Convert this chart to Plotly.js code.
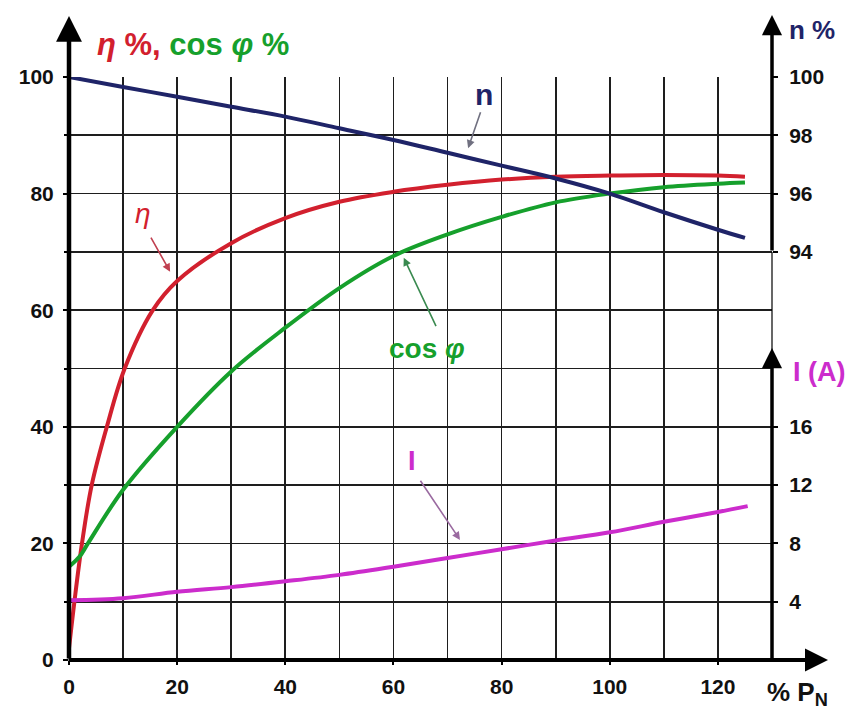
<!DOCTYPE html>
<html>
<head>
<meta charset="utf-8">
<script src="https://cdn.plot.ly/plotly-3.0.1.min.js"></script>
<style>html,body{margin:0;padding:0;background:#fff;}#chart{width:858px;height:720px;}</style>
</head>
<body>
<div id="chart"></div>
<script>
// Load (% of rated power P_N)
const etaX = [0, 1, 2.4, 4.2, 7, 10.3, 15.5, 20, 30, 40, 50, 60, 70, 80, 90, 100, 110, 120, 125];
const etaY = [2, 10, 20, 30, 40, 50, 60, 65, 71.5, 75.8, 78.6, 80.3, 81.5, 82.4, 82.9, 83.1, 83.2, 83.1, 82.9];

const cosX = [0, 2, 3.5, 10, 20, 30, 40, 50, 60, 70, 80, 90, 100, 110, 120, 125];
const cosY = [16, 17.8, 20, 29.2, 40, 49.5, 57, 63.8, 69.3, 73, 76, 78.5, 80, 81.1, 81.7, 81.9];

const nX = [0, 10, 20, 30, 40, 50, 60, 70, 80, 90, 100, 110, 120, 125];
const nY = [100.0, 99.66, 99.32, 98.98, 98.64, 98.24, 97.84, 97.40, 96.96, 96.52, 96.00, 95.36, 94.76, 94.48];

const iX = [0, 10, 20, 30, 40, 50, 60, 70, 80, 90, 100, 110, 120, 125.5];
const iY = [4.1, 4.24, 4.68, 5.0, 5.4, 5.84, 6.4, 7.0, 7.6, 8.2, 8.76, 9.48, 10.16, 10.56];

const leftTicks = [0, 20, 40, 60, 80, 100];
const xTicks = [0, 20, 40, 60, 80, 100, 120];
const nTicks = [94, 96, 98, 100];
const iTicks = [4, 8, 12, 16];

const RED = '#d2202e', GREEN = '#16a02c', NAVY = '#1f2468', MAG = '#cc2ccc';
const FONT = 'Liberation Sans, Arial, sans-serif';

const traces = [
  {x: etaX, y: etaY, mode: 'lines', line: {color: RED, width: 4, shape: 'spline', smoothing: 1}, yaxis: 'y', hoverinfo: 'skip'},
  {x: cosX, y: cosY, mode: 'lines', line: {color: GREEN, width: 4, shape: 'spline', smoothing: 1}, yaxis: 'y', hoverinfo: 'skip'},
  {x: nX, y: nY, mode: 'lines', line: {color: NAVY, width: 4, shape: 'spline', smoothing: 1}, yaxis: 'y2', hoverinfo: 'skip'},
  {x: iX, y: iY, mode: 'lines', line: {color: MAG, width: 4, shape: 'spline', smoothing: 1}, yaxis: 'y3', hoverinfo: 'skip'}
];

const gridCol = '#1e1e1e';
const tickFont = {family: FONT, size: 21, color: '#111', weight: 'bold'};

const layout = {
  width: 858, height: 720,
  margin: {l: 69, r: 86, t: 77, b: 60},
  paper_bgcolor: '#fff', plot_bgcolor: '#fff',
  showlegend: false,
  font: {family: FONT},
  xaxis: {
    range: [0, 130], tickvals: xTicks, ticktext: xTicks.map(String),
    showgrid: true, gridcolor: gridCol, gridwidth: 1.7,
    minor: {dtick: 10, tick0: 0, showgrid: true, gridcolor: gridCol, gridwidth: 1.7},
    zeroline: false, showline: false,
    ticks: 'outside', ticklen: 4, tickwidth: 2, tickcolor: '#000',
    tickfont: tickFont, ticklabelstandoff: 4, fixedrange: true
  },
  yaxis: {
    range: [0, 100], tickvals: leftTicks, ticktext: leftTicks.map(String),
    showgrid: true, gridcolor: gridCol, gridwidth: 1.7,
    minor: {dtick: 10, tick0: 0, showgrid: true, gridcolor: gridCol, gridwidth: 1.7, ticks: 'outside', ticklen: 4, tickcolor: '#000'},
    zeroline: false, showline: false,
    ticks: 'outside', ticklen: 5, tickwidth: 2, tickcolor: '#000',
    tickfont: tickFont, ticklabelstandoff: 5, fixedrange: true
  },
  yaxis2: {
    overlaying: 'y', side: 'right', anchor: 'x',
    range: [80, 100], tickvals: nTicks, ticktext: nTicks.map(String),
    showgrid: false, zeroline: false, showline: false,
    ticks: 'outside', ticklen: 5, tickwidth: 2, tickcolor: '#000',
    tickfont: tickFont, ticklabelstandoff: 7, fixedrange: true
  },
  yaxis3: {
    overlaying: 'y', side: 'right', anchor: 'x',
    range: [0, 40], tickvals: iTicks, ticktext: iTicks.map(String),
    showgrid: false, zeroline: false, showline: false,
    ticks: 'outside', ticklen: 5, tickwidth: 2, tickcolor: '#000',
    tickfont: tickFont, ticklabelstandoff: 7, fixedrange: true
  },
  shapes: [
    {type: 'line', xref: 'paper', yref: 'y', x0: 1, x1: 1, y0: 70, y1: 53, line: {color: '#000', width: 1.2}}
  ],
  annotations: [
    // axis arrows
    {xref: 'paper', yref: 'paper', x: 0, y: (660 - 16) / 583, ax: 0, ay: 644, text: '', showarrow: true,
     arrowhead: 2, arrowsize: 1.15, arrowwidth: 4.5, arrowcolor: '#000', standoff: 0},
    {xref: 'paper', yref: 'paper', x: (828 - 69) / 703, y: 0, ax: -761, ay: 0, text: '', showarrow: true,
     arrowhead: 2, arrowsize: 1.15, arrowwidth: 4, arrowcolor: '#000', standoff: 0},
    {xref: 'paper', yref: 'paper', x: 1, y: (660 - 15) / 583, ax: 0, ay: 237, text: '', showarrow: true,
     arrowhead: 2, arrowsize: 1.15, arrowwidth: 3.5, arrowcolor: '#000', standoff: 0},
    {xref: 'paper', yref: 'paper', x: 1, y: (660 - 348) / 583, ax: 0, ay: 314, text: '', showarrow: true,
     arrowhead: 2, arrowsize: 1.15, arrowwidth: 3.5, arrowcolor: '#000', standoff: 0},
    // axis titles
    {xref: 'paper', yref: 'paper', x: (95 - 69) / 703, y: (660 - 44) / 583, xanchor: 'left', yanchor: 'middle',
     showarrow: false,
     text: '<span style="color:' + RED + '"><i>η</i> %,</span> <span style="color:' + GREEN + '">cos <i>φ</i> %</span>',
     font: {family: FONT, size: 31, weight: 'bold'}},
    {xref: 'paper', yref: 'paper', x: (787 - 69) / 703, y: (660 - 30) / 583, xanchor: 'left', yanchor: 'middle',
     showarrow: false, text: 'n %', font: {family: FONT, size: 26, color: NAVY, weight: 'bold'}},
    {xref: 'paper', yref: 'paper', x: (791 - 69) / 703, y: (660 - 372) / 583, xanchor: 'left', yanchor: 'middle',
     showarrow: false, text: 'I (A)', font: {family: FONT, size: 27, color: MAG, weight: 'bold'}},
    {xref: 'paper', yref: 'paper', x: (765 - 69) / 703, y: (660 - 693) / 583, xanchor: 'left', yanchor: 'middle',
     showarrow: false, text: '% P<sub>N</sub>', font: {family: FONT, size: 26, color: '#111', weight: 'bold'}},
    // curve labels with pointer arrows
    {xref: 'x', yref: 'y', x: 13.7, y: 76.6, showarrow: false, text: '<i>η</i>',
     font: {family: FONT, size: 28, color: RED}},
    {xref: 'x', yref: 'y', axref: 'x', ayref: 'y', x: 18.7, y: 66.6, ax: 15.0, ay: 72.7, text: '',
     showarrow: true, arrowhead: 2, arrowsize: 1, arrowwidth: 1.6, arrowcolor: '#c04050', standoff: 0},
    {xref: 'x', yref: 'y', x: 76.7, y: 97.0, showarrow: false, text: 'n',
     font: {family: FONT, size: 30, color: NAVY, weight: 'bold'}},
    {xref: 'x', yref: 'y', axref: 'x', ayref: 'y', x: 73.8, y: 87.8, ax: 76.2, ay: 94.2, text: '',
     showarrow: true, arrowhead: 2, arrowsize: 1, arrowwidth: 1.6, arrowcolor: '#707080', standoff: 0},
    {xref: 'x', yref: 'y', x: 66.2, y: 53.5, showarrow: false, text: 'cos <i>φ</i>',
     font: {family: FONT, size: 28, color: GREEN, weight: 'bold'}},
    {xref: 'x', yref: 'y', axref: 'x', ayref: 'y', x: 61.9, y: 69.0, ax: 68.0, ay: 57.0, text: '',
     showarrow: true, arrowhead: 2, arrowsize: 1, arrowwidth: 1.6, arrowcolor: '#3a8a50', standoff: 0},
    {xref: 'x', yref: 'y', x: 63.4, y: 34.2, showarrow: false, text: 'I',
     font: {family: FONT, size: 27, color: MAG, weight: 'bold'}},
    {xref: 'x', yref: 'y', axref: 'x', ayref: 'y', x: 72.3, y: 20.6, ax: 64.8, ay: 31.0, text: '',
     showarrow: true, arrowhead: 2, arrowsize: 1, arrowwidth: 1.6, arrowcolor: '#9a6aa0', standoff: 0}
  ]
};

Plotly.newPlot('chart', traces, layout, {staticPlot: true, displayModeBar: false});
</script>
</body>
</html>
